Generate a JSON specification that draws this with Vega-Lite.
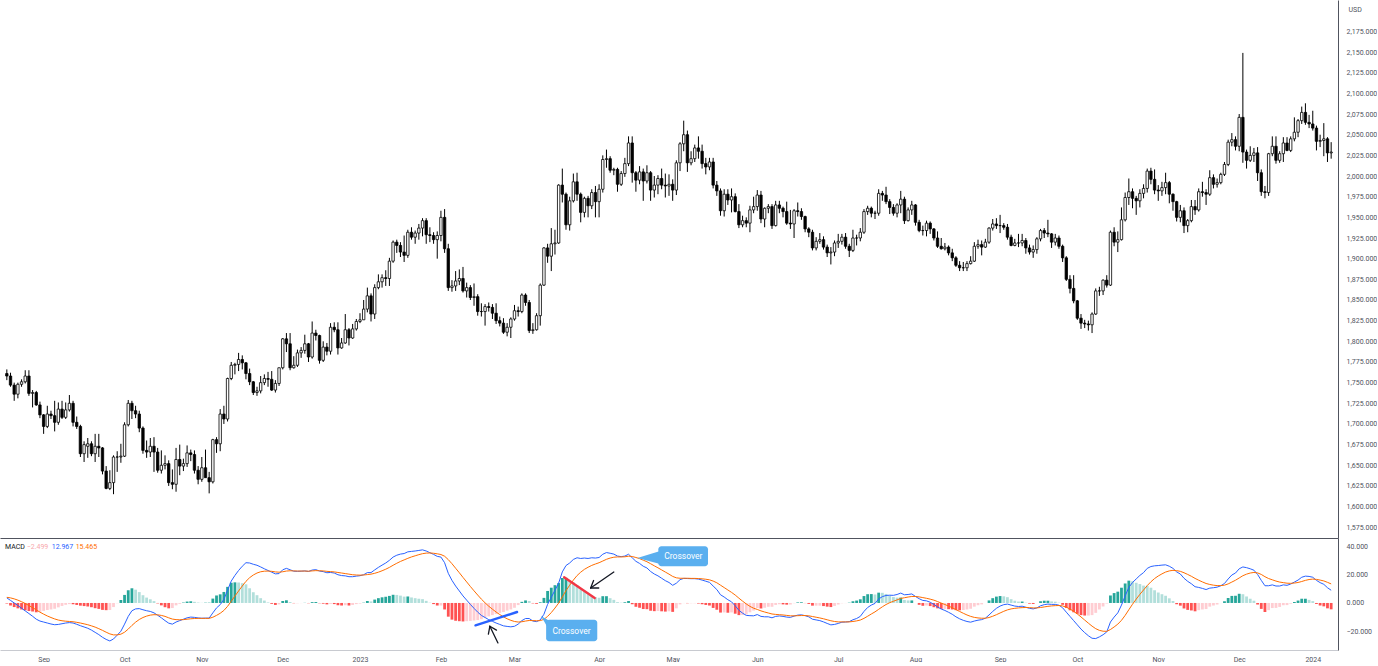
{
"$schema": "https://vega.github.io/schema/vega-lite/v6.json",
"padding": 0,
"background": "#ffffff",
"spacing": 0,
"config": {"view": {"stroke": null}, "font": "Roboto", "axis": {"grid": false, "ticks": false, "labelFont": "Roboto", "labelFontSize": 7, "labelColor": "#50535e", "domainColor": "#50535e", "titleFont": "Roboto"}},
"datasets": {
"bars": [
{"i":0,"d":"2022-08-18","o":1761,"h":1766,"l":1753,"c":1758,"m":3.6,"s":4.0,"g":-0.4},
{"i":1,"d":"2022-08-19","o":1758,"h":1762,"l":1745,"c":1747,"m":1.8,"s":3.6,"g":-1.8},
{"i":2,"d":"2022-08-22","o":1747,"h":1750,"l":1728,"c":1736,"m":0,"s":2.9,"g":-2.9},
{"i":3,"d":"2022-08-23","o":1736,"h":1750,"l":1731,"c":1748,"m":-1.8,"s":2.0,"g":-3.8},
{"i":4,"d":"2022-08-24","o":1748,"h":1754,"l":1745,"c":1751,"m":-3.7,"s":0.9,"g":-4.6},
{"i":5,"d":"2022-08-25","o":1751,"h":1765,"l":1749,"c":1758,"m":-5.6,"s":-0.4,"g":-5.2},
{"i":6,"d":"2022-08-26","o":1758,"h":1765,"l":1734,"c":1737,"m":-7.5,"s":-1.8,"g":-5.7},
{"i":7,"d":"2022-08-29","o":1737,"h":1741,"l":1720,"c":1738,"m":-9.4,"s":-3.3,"g":-6.1},
{"i":8,"d":"2022-08-30","o":1738,"h":1740,"l":1722,"c":1723,"m":-11.5,"s":-4.9,"g":-6.6},
{"i":9,"d":"2022-08-31","o":1723,"h":1727,"l":1707,"c":1711,"m":-12.8,"s":-6.5,"g":-6.3},
{"i":10,"d":"2022-09-01","o":1711,"h":1712,"l":1688,"c":1697,"m":-13.5,"s":-7.9,"g":-5.6},
{"i":11,"d":"2022-09-02","o":1697,"h":1722,"l":1695,"c":1712,"m":-14.2,"s":-9.2,"g":-5.0},
{"i":12,"d":"2022-09-05","o":1712,"h":1716,"l":1706,"c":1710,"m":-14.9,"s":-10.3,"g":-4.6},
{"i":13,"d":"2022-09-06","o":1710,"h":1728,"l":1691,"c":1702,"m":-15.4,"s":-11.3,"g":-4.1},
{"i":14,"d":"2022-09-07","o":1702,"h":1726,"l":1699,"c":1718,"m":-15.2,"s":-12.1,"g":-3.1},
{"i":15,"d":"2022-09-08","o":1718,"h":1728,"l":1706,"c":1708,"m":-14.7,"s":-12.6,"g":-2.1},
{"i":16,"d":"2022-09-09","o":1708,"h":1726,"l":1706,"c":1717,"m":-14.2,"s":-12.9,"g":-1.3},
{"i":17,"d":"2022-09-12","o":1717,"h":1735,"l":1715,"c":1725,"m":-13.9,"s":-13.1,"g":-0.8},
{"i":18,"d":"2022-09-13","o":1725,"h":1728,"l":1697,"c":1702,"m":-14.2,"s":-13.3,"g":-0.9},
{"i":19,"d":"2022-09-14","o":1702,"h":1709,"l":1694,"c":1697,"m":-15.1,"s":-13.7,"g":-1.4},
{"i":20,"d":"2022-09-15","o":1697,"h":1699,"l":1660,"c":1664,"m":-16.1,"s":-14.2,"g":-1.9},
{"i":21,"d":"2022-09-16","o":1664,"h":1679,"l":1654,"c":1675,"m":-17.0,"s":-14.8,"g":-2.2},
{"i":22,"d":"2022-09-19","o":1673,"h":1683,"l":1659,"c":1676,"m":-17.9,"s":-15.4,"g":-2.5},
{"i":23,"d":"2022-09-20","o":1676,"h":1679,"l":1661,"c":1664,"m":-19.2,"s":-16.2,"g":-3.0},
{"i":24,"d":"2022-09-21","o":1664,"h":1688,"l":1654,"c":1673,"m":-20.8,"s":-17.1,"g":-3.7},
{"i":25,"d":"2022-09-22","o":1673,"h":1688,"l":1660,"c":1671,"m":-22.4,"s":-18.2,"g":-4.2},
{"i":26,"d":"2022-09-23","o":1671,"h":1672,"l":1639,"c":1643,"m":-24.3,"s":-19.4,"g":-4.9},
{"i":27,"d":"2022-09-26","o":1643,"h":1649,"l":1621,"c":1622,"m":-25.8,"s":-20.7,"g":-5.1},
{"i":28,"d":"2022-09-27","o":1622,"h":1644,"l":1620,"c":1629,"m":-26.9,"s":-21.9,"g":-5.0},
{"i":29,"d":"2022-09-28","o":1629,"h":1662,"l":1615,"c":1660,"m":-25.5,"s":-22.6,"g":-2.9},
{"i":30,"d":"2022-09-29","o":1660,"h":1667,"l":1642,"c":1660,"m":-22.8,"s":-22.6,"g":-0.2},
{"i":31,"d":"2022-09-30","o":1660,"h":1676,"l":1653,"c":1661,"m":-20.0,"s":-22.1,"g":2.1},
{"i":32,"d":"2022-10-03","o":1661,"h":1702,"l":1660,"c":1699,"m":-15.0,"s":-20.7,"g":5.7},
{"i":33,"d":"2022-10-04","o":1699,"h":1729,"l":1697,"c":1725,"m":-9.5,"s":-18.5,"g":9.0},
{"i":34,"d":"2022-10-05","o":1725,"h":1728,"l":1706,"c":1716,"m":-5.5,"s":-15.9,"g":10.4},
{"i":35,"d":"2022-10-06","o":1716,"h":1722,"l":1707,"c":1712,"m":-4.2,"s":-13.6,"g":9.4},
{"i":36,"d":"2022-10-07","o":1712,"h":1716,"l":1690,"c":1695,"m":-4.0,"s":-11.7,"g":7.7},
{"i":37,"d":"2022-10-10","o":1695,"h":1697,"l":1664,"c":1668,"m":-4.8,"s":-10.3,"g":5.5},
{"i":38,"d":"2022-10-11","o":1668,"h":1680,"l":1659,"c":1666,"m":-5.5,"s":-9.3,"g":3.8},
{"i":39,"d":"2022-10-12","o":1666,"h":1683,"l":1660,"c":1673,"m":-6.0,"s":-8.6,"g":2.6},
{"i":40,"d":"2022-10-13","o":1673,"h":1684,"l":1642,"c":1666,"m":-7.0,"s":-8.3,"g":1.3},
{"i":41,"d":"2022-10-14","o":1666,"h":1671,"l":1641,"c":1644,"m":-8.7,"s":-8.4,"g":-0.3},
{"i":42,"d":"2022-10-17","o":1644,"h":1668,"l":1640,"c":1650,"m":-10.5,"s":-8.8,"g":-1.7},
{"i":43,"d":"2022-10-18","o":1650,"h":1662,"l":1645,"c":1652,"m":-12.5,"s":-9.5,"g":-3.0},
{"i":44,"d":"2022-10-19","o":1652,"h":1656,"l":1625,"c":1629,"m":-14.3,"s":-10.5,"g":-3.8},
{"i":45,"d":"2022-10-20","o":1629,"h":1645,"l":1621,"c":1627,"m":-15.0,"s":-11.4,"g":-3.6},
{"i":46,"d":"2022-10-21","o":1627,"h":1671,"l":1618,"c":1657,"m":-13.5,"s":-11.8,"g":-1.7},
{"i":47,"d":"2022-10-24","o":1657,"h":1675,"l":1638,"c":1649,"m":-12.5,"s":-11.9,"g":-0.6},
{"i":48,"d":"2022-10-25","o":1649,"h":1658,"l":1643,"c":1652,"m":-11.5,"s":-11.8,"g":0.3},
{"i":49,"d":"2022-10-26","o":1652,"h":1674,"l":1648,"c":1665,"m":-10.5,"s":-11.5,"g":1.0},
{"i":50,"d":"2022-10-27","o":1665,"h":1669,"l":1655,"c":1663,"m":-10.0,"s":-11.2,"g":1.2},
{"i":51,"d":"2022-10-28","o":1663,"h":1668,"l":1640,"c":1644,"m":-10.2,"s":-11.0,"g":0.8},
{"i":52,"d":"2022-10-31","o":1644,"h":1649,"l":1627,"c":1633,"m":-10.6,"s":-10.9,"g":0.3},
{"i":53,"d":"2022-11-01","o":1633,"h":1660,"l":1630,"c":1647,"m":-10.8,"s":-10.9,"g":0.1},
{"i":54,"d":"2022-11-02","o":1647,"h":1669,"l":1635,"c":1635,"m":-10.7,"s":-10.9,"g":0.2},
{"i":55,"d":"2022-11-03","o":1635,"h":1642,"l":1616,"c":1630,"m":-10.7,"s":-10.9,"g":0.2},
{"i":56,"d":"2022-11-04","o":1630,"h":1682,"l":1628,"c":1681,"m":-7.0,"s":-10.1,"g":3.1},
{"i":57,"d":"2022-11-07","o":1681,"h":1684,"l":1665,"c":1676,"m":-3.5,"s":-8.8,"g":5.3},
{"i":58,"d":"2022-11-08","o":1676,"h":1718,"l":1667,"c":1712,"m":-1.2,"s":-7.3,"g":6.1},
{"i":59,"d":"2022-11-09","o":1712,"h":1722,"l":1700,"c":1706,"m":2.5,"s":-5.3,"g":7.8},
{"i":60,"d":"2022-11-10","o":1706,"h":1756,"l":1703,"c":1755,"m":9.0,"s":-2.4,"g":11.4},
{"i":61,"d":"2022-11-11","o":1755,"h":1775,"l":1753,"c":1771,"m":15.5,"s":1.2,"g":14.3},
{"i":62,"d":"2022-11-14","o":1771,"h":1774,"l":1760,"c":1772,"m":19.5,"s":4.9,"g":14.6},
{"i":63,"d":"2022-11-15","o":1772,"h":1786,"l":1764,"c":1778,"m":23.0,"s":8.5,"g":14.5},
{"i":64,"d":"2022-11-16","o":1778,"h":1783,"l":1766,"c":1774,"m":26.0,"s":12.0,"g":14.0},
{"i":65,"d":"2022-11-17","o":1774,"h":1775,"l":1754,"c":1761,"m":28.5,"s":15.3,"g":13.2},
{"i":66,"d":"2022-11-18","o":1761,"h":1767,"l":1747,"c":1751,"m":28.3,"s":17.9,"g":10.4},
{"i":67,"d":"2022-11-21","o":1751,"h":1752,"l":1735,"c":1738,"m":27.4,"s":19.8,"g":7.6},
{"i":68,"d":"2022-11-22","o":1738,"h":1745,"l":1734,"c":1740,"m":26.7,"s":21.2,"g":5.5},
{"i":69,"d":"2022-11-23","o":1740,"h":1758,"l":1737,"c":1750,"m":25.5,"s":22.1,"g":3.4},
{"i":70,"d":"2022-11-24","o":1750,"h":1760,"l":1747,"c":1755,"m":24.2,"s":22.5,"g":1.7},
{"i":71,"d":"2022-11-25","o":1755,"h":1763,"l":1745,"c":1754,"m":23.0,"s":22.6,"g":0.4},
{"i":72,"d":"2022-11-28","o":1754,"h":1764,"l":1740,"c":1741,"m":21.8,"s":22.4,"g":-0.6},
{"i":73,"d":"2022-11-29","o":1741,"h":1753,"l":1738,"c":1749,"m":20.6,"s":22.0,"g":-1.4},
{"i":74,"d":"2022-11-30","o":1749,"h":1768,"l":1746,"c":1768,"m":20.8,"s":21.8,"g":-1.0},
{"i":75,"d":"2022-12-01","o":1768,"h":1804,"l":1766,"c":1803,"m":23.5,"s":22.1,"g":1.4},
{"i":76,"d":"2022-12-02","o":1803,"h":1810,"l":1787,"c":1797,"m":24.5,"s":22.6,"g":1.9},
{"i":77,"d":"2022-12-05","o":1797,"h":1810,"l":1765,"c":1768,"m":23.5,"s":22.8,"g":0.7},
{"i":78,"d":"2022-12-06","o":1768,"h":1782,"l":1767,"c":1771,"m":22.5,"s":22.7,"g":-0.2},
{"i":79,"d":"2022-12-07","o":1771,"h":1790,"l":1769,"c":1786,"m":22.4,"s":22.6,"g":-0.2},
{"i":80,"d":"2022-12-08","o":1786,"h":1793,"l":1780,"c":1789,"m":22.5,"s":22.6,"g":-0.1},
{"i":81,"d":"2022-12-09","o":1789,"h":1808,"l":1785,"c":1797,"m":22.7,"s":22.6,"g":0.1},
{"i":82,"d":"2022-12-12","o":1797,"h":1798,"l":1775,"c":1781,"m":22.3,"s":22.5,"g":-0.2},
{"i":83,"d":"2022-12-13","o":1781,"h":1824,"l":1779,"c":1810,"m":23.3,"s":22.7,"g":0.6},
{"i":84,"d":"2022-12-14","o":1810,"h":1814,"l":1801,"c":1807,"m":23.6,"s":22.9,"g":0.7},
{"i":85,"d":"2022-12-15","o":1807,"h":1808,"l":1773,"c":1777,"m":22.6,"s":22.8,"g":-0.2},
{"i":86,"d":"2022-12-16","o":1777,"h":1800,"l":1775,"c":1793,"m":22.2,"s":22.7,"g":-0.5},
{"i":87,"d":"2022-12-19","o":1793,"h":1798,"l":1783,"c":1788,"m":21.4,"s":22.4,"g":-1.0},
{"i":88,"d":"2022-12-20","o":1788,"h":1822,"l":1784,"c":1817,"m":21.6,"s":22.2,"g":-0.6},
{"i":89,"d":"2022-12-21","o":1817,"h":1823,"l":1811,"c":1814,"m":21.2,"s":22.0,"g":-0.8},
{"i":90,"d":"2022-12-22","o":1814,"h":1823,"l":1784,"c":1792,"m":20.0,"s":21.6,"g":-1.6},
{"i":91,"d":"2022-12-23","o":1792,"h":1804,"l":1791,"c":1798,"m":19.4,"s":21.2,"g":-1.8},
{"i":92,"d":"2022-12-27","o":1798,"h":1833,"l":1797,"c":1814,"m":19.2,"s":20.8,"g":-1.6},
{"i":93,"d":"2022-12-28","o":1814,"h":1816,"l":1795,"c":1804,"m":18.6,"s":20.4,"g":-1.8},
{"i":94,"d":"2022-12-29","o":1804,"h":1821,"l":1803,"c":1815,"m":18.6,"s":20.0,"g":-1.4},
{"i":95,"d":"2022-12-30","o":1815,"h":1827,"l":1813,"c":1824,"m":19.0,"s":19.8,"g":-0.8},
{"i":96,"d":"2023-01-02","o":1824,"h":1834,"l":1822,"c":1826,"m":19.3,"s":19.7,"g":-0.4},
{"i":97,"d":"2023-01-03","o":1826,"h":1850,"l":1826,"c":1839,"m":20.0,"s":19.8,"g":0.2},
{"i":98,"d":"2023-01-04","o":1839,"h":1865,"l":1835,"c":1855,"m":21.5,"s":20.1,"g":1.4},
{"i":99,"d":"2023-01-05","o":1855,"h":1858,"l":1824,"c":1833,"m":21.5,"s":20.4,"g":1.1},
{"i":100,"d":"2023-01-06","o":1833,"h":1869,"l":1827,"c":1865,"m":23.4,"s":21.0,"g":2.4},
{"i":101,"d":"2023-01-09","o":1865,"h":1881,"l":1863,"c":1872,"m":25.2,"s":21.8,"g":3.4},
{"i":102,"d":"2023-01-10","o":1872,"h":1881,"l":1865,"c":1877,"m":26.8,"s":22.8,"g":4.0},
{"i":103,"d":"2023-01-11","o":1877,"h":1886,"l":1867,"c":1876,"m":28.3,"s":23.9,"g":4.4},
{"i":104,"d":"2023-01-12","o":1876,"h":1901,"l":1867,"c":1897,"m":30.2,"s":25.2,"g":5.0},
{"i":105,"d":"2023-01-13","o":1897,"h":1922,"l":1895,"c":1920,"m":32.5,"s":26.7,"g":5.8},
{"i":106,"d":"2023-01-16","o":1920,"h":1923,"l":1907,"c":1916,"m":33.8,"s":28.1,"g":5.7},
{"i":107,"d":"2023-01-17","o":1916,"h":1920,"l":1902,"c":1908,"m":34.6,"s":29.4,"g":5.2},
{"i":108,"d":"2023-01-18","o":1908,"h":1928,"l":1896,"c":1904,"m":35.0,"s":30.5,"g":4.5},
{"i":109,"d":"2023-01-19","o":1904,"h":1935,"l":1901,"c":1932,"m":36.2,"s":31.6,"g":4.6},
{"i":110,"d":"2023-01-20","o":1932,"h":1938,"l":1923,"c":1926,"m":36.5,"s":32.6,"g":3.9},
{"i":111,"d":"2023-01-23","o":1926,"h":1934,"l":1918,"c":1931,"m":36.8,"s":33.4,"g":3.4},
{"i":112,"d":"2023-01-24","o":1931,"h":1942,"l":1923,"c":1937,"m":37.2,"s":34.2,"g":3.0},
{"i":113,"d":"2023-01-25","o":1937,"h":1949,"l":1927,"c":1946,"m":37.6,"s":34.9,"g":2.7},
{"i":114,"d":"2023-01-26","o":1946,"h":1949,"l":1918,"c":1929,"m":36.8,"s":35.3,"g":1.5},
{"i":115,"d":"2023-01-27","o":1929,"h":1938,"l":1920,"c":1928,"m":35.6,"s":35.4,"g":0.2},
{"i":116,"d":"2023-01-30","o":1928,"h":1932,"l":1918,"c":1923,"m":34.4,"s":35.2,"g":-0.8},
{"i":117,"d":"2023-01-31","o":1923,"h":1933,"l":1900,"c":1928,"m":33.0,"s":34.8,"g":-1.8},
{"i":118,"d":"2023-02-01","o":1928,"h":1958,"l":1921,"c":1950,"m":32.5,"s":34.3,"g":-1.8},
{"i":119,"d":"2023-02-02","o":1950,"h":1960,"l":1907,"c":1912,"m":28.5,"s":33.1,"g":-4.6},
{"i":120,"d":"2023-02-03","o":1912,"h":1918,"l":1861,"c":1865,"m":21.0,"s":30.7,"g":-9.7},
{"i":121,"d":"2023-02-06","o":1865,"h":1874,"l":1860,"c":1867,"m":16.0,"s":27.8,"g":-11.8},
{"i":122,"d":"2023-02-07","o":1867,"h":1885,"l":1861,"c":1873,"m":12.0,"s":24.6,"g":-12.6},
{"i":123,"d":"2023-02-08","o":1873,"h":1887,"l":1868,"c":1876,"m":8.5,"s":21.4,"g":-12.9},
{"i":124,"d":"2023-02-09","o":1876,"h":1890,"l":1859,"c":1861,"m":5.0,"s":18.1,"g":-13.1},
{"i":125,"d":"2023-02-10","o":1861,"h":1871,"l":1853,"c":1865,"m":2.0,"s":14.9,"g":-12.9},
{"i":126,"d":"2023-02-13","o":1865,"h":1868,"l":1850,"c":1853,"m":-1.0,"s":11.7,"g":-12.7},
{"i":127,"d":"2023-02-14","o":1853,"h":1870,"l":1843,"c":1854,"m":-3.8,"s":8.6,"g":-12.4},
{"i":128,"d":"2023-02-15","o":1854,"h":1857,"l":1831,"c":1836,"m":-6.5,"s":5.6,"g":-12.1},
{"i":129,"d":"2023-02-16","o":1836,"h":1846,"l":1830,"c":1836,"m":-8.8,"s":2.7,"g":-11.5},
{"i":130,"d":"2023-02-17","o":1836,"h":1845,"l":1819,"c":1842,"m":-10.3,"s":0.1,"g":-10.4},
{"i":131,"d":"2023-02-20","o":1842,"h":1847,"l":1836,"c":1841,"m":-11.8,"s":-2.3,"g":-9.5},
{"i":132,"d":"2023-02-21","o":1841,"h":1845,"l":1827,"c":1834,"m":-13.0,"s":-4.4,"g":-8.6},
{"i":133,"d":"2023-02-22","o":1834,"h":1846,"l":1821,"c":1825,"m":-14.2,"s":-6.4,"g":-7.8},
{"i":134,"d":"2023-02-23","o":1825,"h":1830,"l":1818,"c":1822,"m":-15.2,"s":-8.2,"g":-7.0},
{"i":135,"d":"2023-02-24","o":1822,"h":1828,"l":1809,"c":1811,"m":-16.2,"s":-9.8,"g":-6.4},
{"i":136,"d":"2023-02-27","o":1811,"h":1822,"l":1806,"c":1817,"m":-16.6,"s":-11.2,"g":-5.4},
{"i":137,"d":"2023-02-28","o":1817,"h":1829,"l":1804,"c":1827,"m":-16.9,"s":-12.3,"g":-4.6},
{"i":138,"d":"2023-03-01","o":1827,"h":1844,"l":1825,"c":1837,"m":-16.5,"s":-13.1,"g":-3.4},
{"i":139,"d":"2023-03-02","o":1837,"h":1842,"l":1830,"c":1836,"m":-15.0,"s":-13.5,"g":-1.5},
{"i":140,"d":"2023-03-03","o":1836,"h":1858,"l":1834,"c":1856,"m":-12.5,"s":-13.3,"g":0.8},
{"i":141,"d":"2023-03-06","o":1856,"h":1858,"l":1843,"c":1847,"m":-11.0,"s":-12.8,"g":1.8},
{"i":142,"d":"2023-03-07","o":1847,"h":1850,"l":1810,"c":1813,"m":-11.0,"s":-12.4,"g":1.4},
{"i":143,"d":"2023-03-08","o":1813,"h":1822,"l":1809,"c":1814,"m":-12.8,"s":-12.5,"g":-0.3},
{"i":144,"d":"2023-03-09","o":1814,"h":1834,"l":1813,"c":1831,"m":-13.2,"s":-12.6,"g":-0.6},
{"i":145,"d":"2023-03-10","o":1831,"h":1870,"l":1819,"c":1868,"m":-12.0,"s":-12.5,"g":0.5},
{"i":146,"d":"2023-03-13","o":1868,"h":1914,"l":1867,"c":1913,"m":-8.0,"s":-11.6,"g":3.6},
{"i":147,"d":"2023-03-14","o":1913,"h":1918,"l":1895,"c":1903,"m":-1.0,"s":-9.5,"g":8.5},
{"i":148,"d":"2023-03-15","o":1903,"h":1937,"l":1885,"c":1918,"m":4.0,"s":-6.8,"g":10.8},
{"i":149,"d":"2023-03-16","o":1918,"h":1935,"l":1905,"c":1919,"m":9.0,"s":-3.6,"g":12.6},
{"i":150,"d":"2023-03-17","o":1919,"h":1990,"l":1918,"c":1989,"m":14.0,"s":-0.1,"g":14.1},
{"i":151,"d":"2023-03-20","o":1989,"h":2009,"l":1968,"c":1978,"m":22.0,"s":4.3,"g":17.7},
{"i":152,"d":"2023-03-21","o":1978,"h":1980,"l":1935,"c":1941,"m":26.5,"s":8.7,"g":17.8},
{"i":153,"d":"2023-03-22","o":1941,"h":1975,"l":1934,"c":1970,"m":28.3,"s":12.6,"g":15.7},
{"i":154,"d":"2023-03-23","o":1970,"h":2003,"l":1968,"c":1993,"m":30.8,"s":16.2,"g":14.6},
{"i":155,"d":"2023-03-24","o":1993,"h":2004,"l":1970,"c":1978,"m":32.0,"s":19.4,"g":12.6},
{"i":156,"d":"2023-03-27","o":1978,"h":1980,"l":1944,"c":1956,"m":31.5,"s":21.8,"g":9.7},
{"i":157,"d":"2023-03-28","o":1956,"h":1975,"l":1950,"c":1973,"m":31.8,"s":23.8,"g":8.0},
{"i":158,"d":"2023-03-29","o":1973,"h":1976,"l":1950,"c":1964,"m":31.5,"s":25.3,"g":6.2},
{"i":159,"d":"2023-03-30","o":1964,"h":1984,"l":1960,"c":1980,"m":32.0,"s":26.6,"g":5.4},
{"i":160,"d":"2023-03-31","o":1980,"h":1988,"l":1950,"c":1969,"m":31.8,"s":27.6,"g":4.2},
{"i":161,"d":"2023-04-03","o":1969,"h":1990,"l":1950,"c":1984,"m":32.2,"s":28.5,"g":3.7},
{"i":162,"d":"2023-04-04","o":1984,"h":2025,"l":1980,"c":2020,"m":34.5,"s":29.7,"g":4.8},
{"i":163,"d":"2023-04-05","o":2020,"h":2032,"l":2010,"c":2021,"m":35.7,"s":30.9,"g":4.8},
{"i":164,"d":"2023-04-06","o":2021,"h":2024,"l":2004,"c":2007,"m":35.2,"s":31.8,"g":3.4},
{"i":165,"d":"2023-04-07","o":2007,"h":2010,"l":2001,"c":2008,"m":34.6,"s":32.4,"g":2.2},
{"i":166,"d":"2023-04-10","o":2008,"h":2010,"l":1981,"c":1990,"m":33.2,"s":32.6,"g":0.6},
{"i":167,"d":"2023-04-11","o":1990,"h":2006,"l":1988,"c":2003,"m":32.8,"s":32.6,"g":0.2},
{"i":168,"d":"2023-04-12","o":2003,"h":2022,"l":1999,"c":2015,"m":33.2,"s":32.7,"g":0.5},
{"i":169,"d":"2023-04-13","o":2015,"h":2048,"l":2012,"c":2040,"m":34.5,"s":33.1,"g":1.4},
{"i":170,"d":"2023-04-14","o":2040,"h":2048,"l":1992,"c":2004,"m":32.0,"s":32.9,"g":-0.9},
{"i":171,"d":"2023-04-17","o":2004,"h":2006,"l":1981,"c":1995,"m":29.5,"s":32.2,"g":-2.7},
{"i":172,"d":"2023-04-18","o":1995,"h":2012,"l":1990,"c":2005,"m":28.0,"s":31.4,"g":-3.4},
{"i":173,"d":"2023-04-19","o":2005,"h":2009,"l":1970,"c":1994,"m":26.0,"s":30.3,"g":-4.3},
{"i":174,"d":"2023-04-20","o":1994,"h":2013,"l":1991,"c":2004,"m":24.8,"s":29.2,"g":-4.4},
{"i":175,"d":"2023-04-21","o":2004,"h":2006,"l":1970,"c":1983,"m":22.3,"s":27.8,"g":-5.5},
{"i":176,"d":"2023-04-24","o":1983,"h":2000,"l":1974,"c":1989,"m":20.5,"s":26.3,"g":-5.8},
{"i":177,"d":"2023-04-25","o":1989,"h":2001,"l":1978,"c":1997,"m":19.2,"s":24.9,"g":-5.7},
{"i":178,"d":"2023-04-26","o":1997,"h":2009,"l":1984,"c":1989,"m":17.5,"s":23.4,"g":-5.9},
{"i":179,"d":"2023-04-27","o":1989,"h":2003,"l":1974,"c":1988,"m":15.8,"s":21.9,"g":-6.1},
{"i":180,"d":"2023-04-28","o":1988,"h":2002,"l":1976,"c":1990,"m":14.5,"s":20.4,"g":-5.9},
{"i":181,"d":"2023-05-01","o":1990,"h":1996,"l":1970,"c":1983,"m":12.5,"s":18.8,"g":-6.3},
{"i":182,"d":"2023-05-02","o":1983,"h":2019,"l":1977,"c":2016,"m":14.0,"s":17.8,"g":-3.8},
{"i":183,"d":"2023-05-03","o":2016,"h":2041,"l":2006,"c":2039,"m":16.5,"s":17.5,"g":-1.0},
{"i":184,"d":"2023-05-04","o":2039,"h":2067,"l":2030,"c":2050,"m":17.4,"s":17.5,"g":-0.1},
{"i":185,"d":"2023-05-05","o":2050,"h":2055,"l":2005,"c":2016,"m":17.3,"s":17.5,"g":-0.2},
{"i":186,"d":"2023-05-08","o":2016,"h":2030,"l":2013,"c":2021,"m":17.2,"s":17.4,"g":-0.2},
{"i":187,"d":"2023-05-09","o":2021,"h":2038,"l":2017,"c":2034,"m":17.2,"s":17.4,"g":-0.2},
{"i":188,"d":"2023-05-10","o":2034,"h":2048,"l":2021,"c":2030,"m":16.9,"s":17.3,"g":-0.4},
{"i":189,"d":"2023-05-11","o":2030,"h":2038,"l":2009,"c":2015,"m":16.2,"s":17.1,"g":-0.9},
{"i":190,"d":"2023-05-12","o":2015,"h":2022,"l":2002,"c":2011,"m":15.4,"s":16.8,"g":-1.4},
{"i":191,"d":"2023-05-15","o":2011,"h":2022,"l":2007,"c":2017,"m":14.6,"s":16.4,"g":-1.8},
{"i":192,"d":"2023-05-16","o":2017,"h":2022,"l":1985,"c":1989,"m":12.0,"s":15.5,"g":-3.5},
{"i":193,"d":"2023-05-17","o":1989,"h":1994,"l":1976,"c":1982,"m":9.5,"s":14.3,"g":-4.8},
{"i":194,"d":"2023-05-18","o":1982,"h":1985,"l":1952,"c":1958,"m":5.8,"s":12.6,"g":-6.8},
{"i":195,"d":"2023-05-19","o":1958,"h":1984,"l":1951,"c":1978,"m":4.2,"s":10.9,"g":-6.7},
{"i":196,"d":"2023-05-22","o":1978,"h":1984,"l":1965,"c":1971,"m":2.3,"s":9.2,"g":-6.9},
{"i":197,"d":"2023-05-23","o":1971,"h":1985,"l":1956,"c":1975,"m":0.8,"s":7.5,"g":-6.7},
{"i":198,"d":"2023-05-24","o":1975,"h":1979,"l":1956,"c":1957,"m":-2.0,"s":5.6,"g":-7.6},
{"i":199,"d":"2023-05-25","o":1957,"h":1966,"l":1937,"c":1941,"m":-5.2,"s":3.4,"g":-8.6},
{"i":200,"d":"2023-05-26","o":1941,"h":1952,"l":1938,"c":1946,"m":-7.2,"s":1.3,"g":-8.5},
{"i":201,"d":"2023-05-29","o":1946,"h":1950,"l":1938,"c":1943,"m":-8.8,"s":-0.7,"g":-8.1},
{"i":202,"d":"2023-05-30","o":1943,"h":1964,"l":1932,"c":1959,"m":-9.0,"s":-2.4,"g":-6.6},
{"i":203,"d":"2023-05-31","o":1959,"h":1975,"l":1955,"c":1963,"m":-9.1,"s":-3.7,"g":-5.4},
{"i":204,"d":"2023-06-01","o":1963,"h":1983,"l":1958,"c":1977,"m":-8.2,"s":-4.6,"g":-3.6},
{"i":205,"d":"2023-06-02","o":1977,"h":1982,"l":1943,"c":1948,"m":-9.5,"s":-5.6,"g":-3.9},
{"i":206,"d":"2023-06-05","o":1948,"h":1962,"l":1938,"c":1961,"m":-9.8,"s":-6.4,"g":-3.4},
{"i":207,"d":"2023-06-06","o":1961,"h":1966,"l":1955,"c":1963,"m":-9.8,"s":-7.1,"g":-2.7},
{"i":208,"d":"2023-06-07","o":1963,"h":1966,"l":1936,"c":1940,"m":-10.5,"s":-7.8,"g":-2.7},
{"i":209,"d":"2023-06-08","o":1940,"h":1970,"l":1939,"c":1965,"m":-9.5,"s":-8.1,"g":-1.4},
{"i":210,"d":"2023-06-09","o":1965,"h":1970,"l":1955,"c":1961,"m":-9.2,"s":-8.3,"g":-0.9},
{"i":211,"d":"2023-06-12","o":1961,"h":1963,"l":1950,"c":1957,"m":-9.5,"s":-8.5,"g":-1.0},
{"i":212,"d":"2023-06-13","o":1957,"h":1969,"l":1941,"c":1943,"m":-10.0,"s":-8.8,"g":-1.2},
{"i":213,"d":"2023-06-14","o":1943,"h":1959,"l":1936,"c":1942,"m":-10.2,"s":-9.1,"g":-1.1},
{"i":214,"d":"2023-06-15","o":1942,"h":1960,"l":1925,"c":1958,"m":-9.3,"s":-9.1,"g":-0.2},
{"i":215,"d":"2023-06-16","o":1958,"h":1968,"l":1951,"c":1957,"m":-8.6,"s":-9.0,"g":0.4},
{"i":216,"d":"2023-06-19","o":1957,"h":1961,"l":1947,"c":1951,"m":-8.4,"s":-8.9,"g":0.5},
{"i":217,"d":"2023-06-20","o":1951,"h":1952,"l":1932,"c":1936,"m":-9.0,"s":-8.9,"g":-0.1},
{"i":218,"d":"2023-06-21","o":1936,"h":1938,"l":1926,"c":1932,"m":-9.8,"s":-9.1,"g":-0.7},
{"i":219,"d":"2023-06-22","o":1932,"h":1935,"l":1910,"c":1913,"m":-11.5,"s":-9.6,"g":-1.9},
{"i":220,"d":"2023-06-23","o":1913,"h":1926,"l":1910,"c":1921,"m":-12.0,"s":-10.1,"g":-1.9},
{"i":221,"d":"2023-06-26","o":1921,"h":1931,"l":1918,"c":1923,"m":-12.5,"s":-10.6,"g":-1.9},
{"i":222,"d":"2023-06-27","o":1923,"h":1927,"l":1911,"c":1914,"m":-13.4,"s":-11.2,"g":-2.2},
{"i":223,"d":"2023-06-28","o":1914,"h":1917,"l":1902,"c":1907,"m":-14.5,"s":-11.9,"g":-2.6},
{"i":224,"d":"2023-06-29","o":1907,"h":1914,"l":1893,"c":1908,"m":-15.5,"s":-12.6,"g":-2.9},
{"i":225,"d":"2023-06-30","o":1908,"h":1922,"l":1903,"c":1919,"m":-15.2,"s":-13.1,"g":-2.1},
{"i":226,"d":"2023-07-03","o":1919,"h":1930,"l":1913,"c":1921,"m":-14.5,"s":-13.4,"g":-1.1},
{"i":227,"d":"2023-07-04","o":1921,"h":1930,"l":1917,"c":1926,"m":-13.6,"s":-13.4,"g":-0.2},
{"i":228,"d":"2023-07-05","o":1926,"h":1931,"l":1912,"c":1915,"m":-13.5,"s":-13.4,"g":-0.1},
{"i":229,"d":"2023-07-06","o":1915,"h":1918,"l":1902,"c":1910,"m":-13.2,"s":-13.4,"g":0.2},
{"i":230,"d":"2023-07-07","o":1910,"h":1935,"l":1908,"c":1925,"m":-11.9,"s":-13.1,"g":1.2},
{"i":231,"d":"2023-07-10","o":1925,"h":1929,"l":1916,"c":1925,"m":-11.0,"s":-12.7,"g":1.7},
{"i":232,"d":"2023-07-11","o":1925,"h":1937,"l":1921,"c":1932,"m":-9.5,"s":-12.1,"g":2.6},
{"i":233,"d":"2023-07-12","o":1932,"h":1960,"l":1930,"c":1957,"m":-6.0,"s":-10.9,"g":4.9},
{"i":234,"d":"2023-07-13","o":1957,"h":1964,"l":1953,"c":1961,"m":-3.2,"s":-9.4,"g":6.2},
{"i":235,"d":"2023-07-14","o":1961,"h":1963,"l":1950,"c":1955,"m":-1.5,"s":-7.8,"g":6.3},
{"i":236,"d":"2023-07-17","o":1955,"h":1958,"l":1948,"c":1955,"m":-0.3,"s":-6.3,"g":6.0},
{"i":237,"d":"2023-07-18","o":1955,"h":1984,"l":1952,"c":1979,"m":2.8,"s":-4.5,"g":7.3},
{"i":238,"d":"2023-07-19","o":1979,"h":1982,"l":1970,"c":1977,"m":4.5,"s":-2.7,"g":7.2},
{"i":239,"d":"2023-07-20","o":1977,"h":1987,"l":1966,"c":1969,"m":5.3,"s":-1.1,"g":6.4},
{"i":240,"d":"2023-07-21","o":1969,"h":1972,"l":1954,"c":1962,"m":5.5,"s":0.2,"g":5.3},
{"i":241,"d":"2023-07-24","o":1962,"h":1966,"l":1952,"c":1955,"m":5.4,"s":1.2,"g":4.2},
{"i":242,"d":"2023-07-25","o":1955,"h":1967,"l":1950,"c":1965,"m":6.0,"s":2.2,"g":3.8},
{"i":243,"d":"2023-07-26","o":1965,"h":1982,"l":1955,"c":1972,"m":7.0,"s":3.2,"g":3.8},
{"i":244,"d":"2023-07-27","o":1972,"h":1975,"l":1942,"c":1946,"m":5.8,"s":3.7,"g":2.1},
{"i":245,"d":"2023-07-28","o":1946,"h":1962,"l":1945,"c":1959,"m":6.0,"s":4.2,"g":1.8},
{"i":246,"d":"2023-07-31","o":1959,"h":1970,"l":1953,"c":1965,"m":6.4,"s":4.6,"g":1.8},
{"i":247,"d":"2023-08-01","o":1965,"h":1966,"l":1940,"c":1944,"m":4.6,"s":4.6,"g":0.0},
{"i":248,"d":"2023-08-02","o":1944,"h":1947,"l":1932,"c":1934,"m":3.0,"s":4.3,"g":-1.3},
{"i":249,"d":"2023-08-03","o":1934,"h":1940,"l":1928,"c":1934,"m":1.8,"s":3.8,"g":-2.0},
{"i":250,"d":"2023-08-04","o":1934,"h":1946,"l":1927,"c":1943,"m":1.5,"s":3.3,"g":-1.8},
{"i":251,"d":"2023-08-07","o":1943,"h":1945,"l":1930,"c":1936,"m":0.5,"s":2.7,"g":-2.2},
{"i":252,"d":"2023-08-08","o":1936,"h":1937,"l":1922,"c":1925,"m":-1.0,"s":2.0,"g":-3.0},
{"i":253,"d":"2023-08-09","o":1925,"h":1933,"l":1913,"c":1915,"m":-2.8,"s":1.0,"g":-3.8},
{"i":254,"d":"2023-08-10","o":1915,"h":1925,"l":1911,"c":1912,"m":-4.3,"s":-0.1,"g":-4.2},
{"i":255,"d":"2023-08-11","o":1912,"h":1919,"l":1910,"c":1914,"m":-5.3,"s":-1.1,"g":-4.2},
{"i":256,"d":"2023-08-14","o":1914,"h":1916,"l":1904,"c":1907,"m":-6.6,"s":-2.2,"g":-4.4},
{"i":257,"d":"2023-08-15","o":1907,"h":1912,"l":1897,"c":1901,"m":-8.0,"s":-3.4,"g":-4.6},
{"i":258,"d":"2023-08-16","o":1901,"h":1903,"l":1890,"c":1892,"m":-9.8,"s":-4.7,"g":-5.1},
{"i":259,"d":"2023-08-17","o":1892,"h":1897,"l":1885,"c":1889,"m":-11.2,"s":-6.0,"g":-5.2},
{"i":260,"d":"2023-08-18","o":1889,"h":1896,"l":1885,"c":1889,"m":-12.3,"s":-7.3,"g":-5.0},
{"i":261,"d":"2023-08-21","o":1889,"h":1897,"l":1885,"c":1894,"m":-13.1,"s":-8.5,"g":-4.6},
{"i":262,"d":"2023-08-22","o":1894,"h":1903,"l":1893,"c":1897,"m":-13.6,"s":-9.5,"g":-4.1},
{"i":263,"d":"2023-08-23","o":1897,"h":1920,"l":1896,"c":1915,"m":-12.8,"s":-10.2,"g":-2.6},
{"i":264,"d":"2023-08-24","o":1915,"h":1923,"l":1912,"c":1917,"m":-12.2,"s":-10.6,"g":-1.6},
{"i":265,"d":"2023-08-25","o":1917,"h":1922,"l":1904,"c":1914,"m":-11.8,"s":-10.8,"g":-1.0},
{"i":266,"d":"2023-08-28","o":1914,"h":1924,"l":1913,"c":1920,"m":-10.8,"s":-10.8,"g":0.0},
{"i":267,"d":"2023-08-29","o":1920,"h":1938,"l":1918,"c":1937,"m":-8.5,"s":-10.3,"g":1.8},
{"i":268,"d":"2023-08-30","o":1937,"h":1948,"l":1934,"c":1942,"m":-6.0,"s":-9.4,"g":3.4},
{"i":269,"d":"2023-08-31","o":1942,"h":1949,"l":1936,"c":1940,"m":-3.8,"s":-8.3,"g":4.5},
{"i":270,"d":"2023-09-01","o":1940,"h":1953,"l":1931,"c":1940,"m":-2.2,"s":-7.1,"g":4.9},
{"i":271,"d":"2023-09-04","o":1940,"h":1943,"l":1935,"c":1938,"m":-1.2,"s":-5.9,"g":4.7},
{"i":272,"d":"2023-09-05","o":1938,"h":1942,"l":1923,"c":1926,"m":-0.8,"s":-4.9,"g":4.1},
{"i":273,"d":"2023-09-06","o":1926,"h":1929,"l":1915,"c":1916,"m":-1.5,"s":-4.2,"g":2.7},
{"i":274,"d":"2023-09-07","o":1916,"h":1924,"l":1915,"c":1919,"m":-2.2,"s":-3.8,"g":1.6},
{"i":275,"d":"2023-09-08","o":1919,"h":1930,"l":1914,"c":1919,"m":-2.5,"s":-3.5,"g":1.0},
{"i":276,"d":"2023-09-11","o":1919,"h":1930,"l":1915,"c":1922,"m":-2.3,"s":-3.3,"g":1.0},
{"i":277,"d":"2023-09-12","o":1922,"h":1925,"l":1906,"c":1913,"m":-3.0,"s":-3.2,"g":0.2},
{"i":278,"d":"2023-09-13","o":1913,"h":1917,"l":1905,"c":1908,"m":-3.8,"s":-3.3,"g":-0.5},
{"i":279,"d":"2023-09-14","o":1908,"h":1916,"l":1901,"c":1911,"m":-4.2,"s":-3.5,"g":-0.7},
{"i":280,"d":"2023-09-15","o":1911,"h":1926,"l":1906,"c":1924,"m":-3.5,"s":-3.5,"g":0.0},
{"i":281,"d":"2023-09-18","o":1924,"h":1936,"l":1921,"c":1934,"m":-2.0,"s":-3.2,"g":1.2},
{"i":282,"d":"2023-09-19","o":1934,"h":1937,"l":1925,"c":1931,"m":-1.2,"s":-2.8,"g":1.6},
{"i":283,"d":"2023-09-20","o":1931,"h":1947,"l":1926,"c":1930,"m":-0.8,"s":-2.4,"g":1.6},
{"i":284,"d":"2023-09-21","o":1930,"h":1931,"l":1913,"c":1920,"m":-1.0,"s":-2.1,"g":1.1},
{"i":285,"d":"2023-09-22","o":1920,"h":1930,"l":1916,"c":1925,"m":-1.0,"s":-1.9,"g":0.9},
{"i":286,"d":"2023-09-25","o":1925,"h":1928,"l":1912,"c":1915,"m":-1.6,"s":-1.8,"g":0.2},
{"i":287,"d":"2023-09-26","o":1915,"h":1917,"l":1896,"c":1901,"m":-3.4,"s":-2.1,"g":-1.3},
{"i":288,"d":"2023-09-27","o":1901,"h":1903,"l":1873,"c":1875,"m":-6.5,"s":-3.0,"g":-3.5},
{"i":289,"d":"2023-09-28","o":1875,"h":1880,"l":1858,"c":1864,"m":-9.5,"s":-4.3,"g":-5.2},
{"i":290,"d":"2023-09-29","o":1864,"h":1880,"l":1846,"c":1849,"m":-12.5,"s":-5.9,"g":-6.6},
{"i":291,"d":"2023-10-02","o":1849,"h":1850,"l":1826,"c":1828,"m":-15.5,"s":-7.8,"g":-7.7},
{"i":292,"d":"2023-10-03","o":1828,"h":1833,"l":1815,"c":1822,"m":-18.5,"s":-9.9,"g":-8.6},
{"i":293,"d":"2023-10-04","o":1822,"h":1826,"l":1816,"c":1821,"m":-21.0,"s":-12.1,"g":-8.9},
{"i":294,"d":"2023-10-05","o":1821,"h":1825,"l":1813,"c":1820,"m":-23.2,"s":-14.3,"g":-8.9},
{"i":295,"d":"2023-10-06","o":1820,"h":1835,"l":1810,"c":1833,"m":-25.0,"s":-16.4,"g":-8.6},
{"i":296,"d":"2023-10-09","o":1833,"h":1864,"l":1832,"c":1861,"m":-25.2,"s":-18.2,"g":-7.0},
{"i":297,"d":"2023-10-10","o":1861,"h":1866,"l":1855,"c":1861,"m":-24.0,"s":-19.4,"g":-4.6},
{"i":298,"d":"2023-10-11","o":1861,"h":1875,"l":1856,"c":1874,"m":-22.5,"s":-20.0,"g":-2.5},
{"i":299,"d":"2023-10-12","o":1874,"h":1880,"l":1865,"c":1868,"m":-20.5,"s":-20.1,"g":-0.4},
{"i":300,"d":"2023-10-13","o":1868,"h":1934,"l":1867,"c":1932,"m":-13.5,"s":-18.8,"g":5.3},
{"i":301,"d":"2023-10-16","o":1932,"h":1938,"l":1915,"c":1920,"m":-10.0,"s":-17.0,"g":7.0},
{"i":302,"d":"2023-10-17","o":1920,"h":1933,"l":1908,"c":1923,"m":-7.0,"s":-15.0,"g":8.0},
{"i":303,"d":"2023-10-18","o":1923,"h":1962,"l":1922,"c":1947,"m":-1.5,"s":-12.3,"g":10.8},
{"i":304,"d":"2023-10-19","o":1947,"h":1980,"l":1945,"c":1974,"m":5.0,"s":-8.8,"g":13.8},
{"i":305,"d":"2023-10-20","o":1974,"h":1997,"l":1965,"c":1981,"m":11.0,"s":-4.8,"g":15.8},
{"i":306,"d":"2023-10-23","o":1981,"h":1985,"l":1961,"c":1973,"m":14.5,"s":-0.9,"g":15.4},
{"i":307,"d":"2023-10-24","o":1973,"h":1976,"l":1953,"c":1970,"m":17.0,"s":2.7,"g":14.3},
{"i":308,"d":"2023-10-25","o":1970,"h":1984,"l":1962,"c":1979,"m":19.5,"s":6.1,"g":13.4},
{"i":309,"d":"2023-10-26","o":1979,"h":1990,"l":1973,"c":1985,"m":21.5,"s":9.2,"g":12.3},
{"i":310,"d":"2023-10-27","o":1985,"h":2009,"l":1980,"c":2006,"m":24.5,"s":12.3,"g":12.2},
{"i":311,"d":"2023-10-30","o":2006,"h":2010,"l":1990,"c":1996,"m":25.8,"s":15.0,"g":10.8},
{"i":312,"d":"2023-10-31","o":1996,"h":2008,"l":1978,"c":1983,"m":26.3,"s":17.3,"g":9.0},
{"i":313,"d":"2023-11-01","o":1983,"h":1989,"l":1970,"c":1982,"m":26.5,"s":19.1,"g":7.4},
{"i":314,"d":"2023-11-02","o":1982,"h":1993,"l":1976,"c":1986,"m":26.8,"s":20.6,"g":6.2},
{"i":315,"d":"2023-11-03","o":1986,"h":2004,"l":1978,"c":1992,"m":27.0,"s":21.9,"g":5.1},
{"i":316,"d":"2023-11-06","o":1992,"h":1994,"l":1967,"c":1978,"m":26.0,"s":22.7,"g":3.3},
{"i":317,"d":"2023-11-07","o":1978,"h":1979,"l":1958,"c":1969,"m":24.5,"s":23.1,"g":1.4},
{"i":318,"d":"2023-11-08","o":1969,"h":1970,"l":1945,"c":1950,"m":22.0,"s":22.9,"g":-0.9},
{"i":319,"d":"2023-11-09","o":1950,"h":1965,"l":1944,"c":1958,"m":20.5,"s":22.4,"g":-1.9},
{"i":320,"d":"2023-11-10","o":1958,"h":1962,"l":1931,"c":1940,"m":17.5,"s":21.4,"g":-3.9},
{"i":321,"d":"2023-11-13","o":1940,"h":1948,"l":1932,"c":1946,"m":15.3,"s":20.2,"g":-4.9},
{"i":322,"d":"2023-11-14","o":1946,"h":1971,"l":1944,"c":1963,"m":13.6,"s":18.9,"g":-5.3},
{"i":323,"d":"2023-11-15","o":1963,"h":1971,"l":1953,"c":1959,"m":11.5,"s":17.4,"g":-5.9},
{"i":324,"d":"2023-11-16","o":1959,"h":1985,"l":1957,"c":1981,"m":11.0,"s":16.1,"g":-5.1},
{"i":325,"d":"2023-11-17","o":1981,"h":1993,"l":1975,"c":1980,"m":10.3,"s":14.9,"g":-4.6},
{"i":326,"d":"2023-11-20","o":1980,"h":1984,"l":1965,"c":1978,"m":9.5,"s":13.8,"g":-4.3},
{"i":327,"d":"2023-11-21","o":1978,"h":2007,"l":1976,"c":1998,"m":10.5,"s":13.1,"g":-2.6},
{"i":328,"d":"2023-11-22","o":1998,"h":2002,"l":1985,"c":1990,"m":10.8,"s":12.6,"g":-1.8},
{"i":329,"d":"2023-11-23","o":1990,"h":1997,"l":1986,"c":1992,"m":11.2,"s":12.3,"g":-1.1},
{"i":330,"d":"2023-11-24","o":1992,"h":2004,"l":1990,"c":2002,"m":12.2,"s":12.3,"g":-0.1},
{"i":331,"d":"2023-11-27","o":2002,"h":2017,"l":2000,"c":2014,"m":13.8,"s":12.6,"g":1.2},
{"i":332,"d":"2023-11-28","o":2014,"h":2044,"l":2012,"c":2041,"m":17.0,"s":13.5,"g":3.5},
{"i":333,"d":"2023-11-29","o":2041,"h":2052,"l":2036,"c":2044,"m":19.8,"s":14.8,"g":5.0},
{"i":334,"d":"2023-11-30","o":2044,"h":2048,"l":2031,"c":2036,"m":21.2,"s":16.1,"g":5.1},
{"i":335,"d":"2023-12-01","o":2036,"h":2075,"l":2030,"c":2071,"m":24.2,"s":17.7,"g":6.5},
{"i":336,"d":"2023-12-04","o":2071,"h":2149,"l":2016,"c":2029,"m":25.5,"s":19.3,"g":6.2},
{"i":337,"d":"2023-12-05","o":2029,"h":2032,"l":2009,"c":2019,"m":25.0,"s":20.4,"g":4.6},
{"i":338,"d":"2023-12-06","o":2019,"h":2036,"l":2017,"c":2025,"m":24.2,"s":21.2,"g":3.0},
{"i":339,"d":"2023-12-07","o":2025,"h":2034,"l":2017,"c":2028,"m":23.2,"s":21.6,"g":1.6},
{"i":340,"d":"2023-12-08","o":2028,"h":2035,"l":1994,"c":2004,"m":20.2,"s":21.3,"g":-1.1},
{"i":341,"d":"2023-12-11","o":2004,"h":2008,"l":1976,"c":1981,"m":16.0,"s":20.2,"g":-4.2},
{"i":342,"d":"2023-12-12","o":1981,"h":1988,"l":1973,"c":1980,"m":12.2,"s":18.6,"g":-6.4},
{"i":343,"d":"2023-12-13","o":1980,"h":2028,"l":1976,"c":2027,"m":12.2,"s":17.3,"g":-5.1},
{"i":344,"d":"2023-12-14","o":2027,"h":2048,"l":2024,"c":2036,"m":12.8,"s":16.4,"g":-3.6},
{"i":345,"d":"2023-12-15","o":2036,"h":2048,"l":2015,"c":2019,"m":12.0,"s":15.5,"g":-3.5},
{"i":346,"d":"2023-12-18","o":2019,"h":2030,"l":2016,"c":2027,"m":12.0,"s":14.8,"g":-2.8},
{"i":347,"d":"2023-12-19","o":2027,"h":2047,"l":2017,"c":2040,"m":12.8,"s":14.4,"g":-1.6},
{"i":348,"d":"2023-12-20","o":2040,"h":2047,"l":2030,"c":2031,"m":12.5,"s":14.0,"g":-1.5},
{"i":349,"d":"2023-12-21","o":2031,"h":2048,"l":2029,"c":2045,"m":13.4,"s":13.9,"g":-0.5},
{"i":350,"d":"2023-12-22","o":2045,"h":2071,"l":2042,"c":2053,"m":14.8,"s":14.1,"g":0.7},
{"i":351,"d":"2023-12-26","o":2053,"h":2069,"l":2047,"c":2067,"m":16.2,"s":14.5,"g":1.7},
{"i":352,"d":"2023-12-27","o":2067,"h":2084,"l":2063,"c":2077,"m":18.2,"s":15.2,"g":3.0},
{"i":353,"d":"2023-12-28","o":2077,"h":2088,"l":2062,"c":2065,"m":19.0,"s":16.0,"g":3.0},
{"i":354,"d":"2023-12-29","o":2065,"h":2074,"l":2058,"c":2063,"m":18.8,"s":16.6,"g":2.2},
{"i":355,"d":"2024-01-02","o":2063,"h":2079,"l":2055,"c":2058,"m":18.2,"s":16.9,"g":1.3},
{"i":356,"d":"2024-01-03","o":2058,"h":2061,"l":2031,"c":2042,"m":16.0,"s":16.7,"g":-0.7},
{"i":357,"d":"2024-01-04","o":2042,"h":2050,"l":2035,"c":2043,"m":14.4,"s":16.2,"g":-1.8},
{"i":358,"d":"2024-01-05","o":2043,"h":2064,"l":2024,"c":2045,"m":13.2,"s":15.6,"g":-2.4},
{"i":359,"d":"2024-01-08","o":2045,"h":2047,"l":2017,"c":2028,"m":10.8,"s":14.6,"g":-3.8},
{"i":360,"d":"2024-01-09","o":2028,"h":2041,"l":2021,"c":2029,"m":9.0,"s":13.5,"g":-4.5}
],
"boxes": [
{"x1":177.1,"x2":190.6,"y1":26.0,"y2":40.1,"cx":183.9,"cy":33.0,"label":"Crossover"},
{"x1":146.6,"x2":160.5,"y1":-11.8,"y2":-27.1,"cx":153.5,"cy":-19.5,"label":"Crossover"}
],
"tails": [
{"t":"a","ax":171.4,"top":31.9,"bot":31.9},
{"t":"a","ax":177.6,"top":36.8,"bot":27.6},
{"t":"b","ax":145.2,"top":-9.2,"bot":-9.2},
{"t":"b","ax":147.1,"top":-12.0,"bot":-17.7}
],
"segs": [
{"k":"bull","x1":127.4,"y1":-15.8,"x2":138.7,"y2":-6.4},
{"k":"bear","x1":151.5,"y1":18.2,"x2":159.8,"y2":3.5},
{"k":"arrow","x1":165.0,"y1":21.9,"x2":158.7,"y2":10.6},
{"k":"arrow","x1":158.7,"y1":10.6,"x2":160.9,"y2":10.6},
{"k":"arrow","x1":158.7,"y1":10.6,"x2":159.5,"y2":15.9},
{"k":"arrow","x1":133.5,"y1":-28.3,"x2":131.3,"y2":-16.5},
{"k":"arrow","x1":131.3,"y1":-16.5,"x2":130.9,"y2":-22.1},
{"k":"arrow","x1":131.3,"y1":-16.5,"x2":133.1,"y2":-19.2}
],
"legend": [
{"tx":-0.5,"ty":39.4,"txt":"MACD","k":"label"},
{"tx":5.4,"ty":39.4,"txt":"−2.499","k":"hist"},
{"tx":12.2,"ty":39.4,"txt":"12.967","k":"macd"},
{"tx":18.7,"ty":39.4,"txt":"15.465","k":"signal"}
]
},
"vconcat": [
{
"width": 1338,
"height": 538,
"data": {"name": "bars"},
"encoding": {
"x": {"field": "i", "type": "quantitative", "scale": {"domain": [-0.5, 360.5], "nice": false, "zero": false}, "axis": {"labels": false, "ticks": false, "domain": true, "title": null, "orient": "bottom", "domainColor": "#50535e"}}
},
"layer": [
{
"mark": {"type": "rule", "color": "#000000", "strokeWidth": 1},
"encoding": {
"y": {"field": "l", "type": "quantitative", "scale": {"domain": [1562, 2213], "nice": false, "zero": false}, "axis": {"orient": "right", "values": [1575,1600,1625,1650,1675,1700,1725,1750,1775,1800,1825,1850,1875,1900,1925,1950,1975,2000,2025,2050,2075,2100,2125,2150,2175], "format": ",.3f", "labelPadding": 8, "title": "USD", "titleAngle": 0, "titleAlign": "left", "titleBaseline": "middle", "titleX": 10, "titleY": 9, "titleFontSize": 7, "titleFontWeight": "normal", "titleColor": "#50535e"}},
"y2": {"field": "h"}
}
},
{
"mark": {"type": "bar", "size": 2.4, "stroke": "#000000", "strokeWidth": 0.8},
"encoding": {
"y": {"field": "o", "type": "quantitative", "scale": {"domain": [1562, 2213], "nice": false, "zero": false}, "axis": {"orient": "right", "values": [1575,1600,1625,1650,1675,1700,1725,1750,1775,1800,1825,1850,1875,1900,1925,1950,1975,2000,2025,2050,2075,2100,2125,2150,2175], "format": ",.3f", "labelPadding": 8, "title": "USD", "titleAngle": 0, "titleAlign": "left", "titleBaseline": "middle", "titleX": 10, "titleY": 9, "titleFontSize": 7, "titleFontWeight": "normal", "titleColor": "#50535e"}},
"y2": {"field": "c"},
"fill": {"condition": {"test": "datum.c >= datum.o", "value": "#ffffff"}, "value": "#000000"}
}
}
]
},
{
"width": 1338,
"height": 112,
"layer": [
{
"data": {"name": "bars"},
"transform": [{"window": [{"op": "lag", "field": "g", "as": "pg"}], "sort": [{"field": "i", "order": "ascending"}]}],
"mark": {"type": "bar", "size": 2.8},
"encoding": {
"x": {"field": "i", "type": "quantitative", "scale": {"domain": [-0.5, 360.5], "nice": false, "zero": false}, "axis": {"orient": "bottom", "title": null, "ticks": false, "labelPadding": 5, "domainColor": "#c8cad0", "labelOverlap": false, "labelFlush": false, "values": [10,32,53,75,96,118,138,161,181,204,226,247,270,291,313,335,355], "labelExpr": "['Sep','Oct','Nov','Dec','2023','Feb','Mar','Apr','May','Jun','Jul','Aug','Sep','Oct','Nov','Dec','2024'][indexof([10,32,53,75,96,118,138,161,181,204,226,247,270,291,313,335,355], datum.value)]"}},
"y": {"field": "g", "type": "quantitative", "scale": {"domain": [-33.3, 46], "nice": false, "zero": false}, "axis": {"orient": "right", "title": null, "values": [-20, 0, 20, 40], "format": ",.3f", "labelPadding": 8}},
"y2": {"datum": 0},
"fill": {"condition": [
{"test": "datum.g >= 0 && (datum.pg == null || datum.g >= datum.pg)", "value": "#26A69A"},
{"test": "datum.g >= 0", "value": "#B2DFDB"},
{"test": "datum.g < datum.pg", "value": "#FF5252"}
], "value": "#FFCDD2"}
}
},
{
"data": {"name": "bars"},
"mark": {"type": "line", "color": "#2962FF", "strokeWidth": 1},
"encoding": {
"x": {"field": "i", "type": "quantitative", "scale": {"domain": [-0.5, 360.5], "nice": false, "zero": false}, "axis": {"orient": "bottom", "title": null, "ticks": false, "labelPadding": 5, "domainColor": "#c8cad0", "labelOverlap": false, "labelFlush": false, "values": [10,32,53,75,96,118,138,161,181,204,226,247,270,291,313,335,355], "labelExpr": "['Sep','Oct','Nov','Dec','2023','Feb','Mar','Apr','May','Jun','Jul','Aug','Sep','Oct','Nov','Dec','2024'][indexof([10,32,53,75,96,118,138,161,181,204,226,247,270,291,313,335,355], datum.value)]"}},
"y": {"field": "m", "type": "quantitative", "scale": {"domain": [-33.3, 46], "nice": false, "zero": false}, "axis": {"orient": "right", "title": null, "values": [-20, 0, 20, 40], "format": ",.3f", "labelPadding": 8}}
}
},
{
"data": {"name": "bars"},
"mark": {"type": "line", "color": "#FF6D00", "strokeWidth": 1},
"encoding": {
"x": {"field": "i", "type": "quantitative", "scale": {"domain": [-0.5, 360.5], "nice": false, "zero": false}, "axis": {"orient": "bottom", "title": null, "ticks": false, "labelPadding": 5, "domainColor": "#c8cad0", "labelOverlap": false, "labelFlush": false, "values": [10,32,53,75,96,118,138,161,181,204,226,247,270,291,313,335,355], "labelExpr": "['Sep','Oct','Nov','Dec','2023','Feb','Mar','Apr','May','Jun','Jul','Aug','Sep','Oct','Nov','Dec','2024'][indexof([10,32,53,75,96,118,138,161,181,204,226,247,270,291,313,335,355], datum.value)]"}},
"y": {"field": "s", "type": "quantitative", "scale": {"domain": [-33.3, 46], "nice": false, "zero": false}, "axis": {"orient": "right", "title": null, "values": [-20, 0, 20, 40], "format": ",.3f", "labelPadding": 8}}
}
},
{
"data": {"name": "segs"},
"transform": [{"filter": "datum.k != 'arrow'"}],
"mark": {"type": "rule", "strokeWidth": 2.4, "strokeCap": "round"},
"encoding": {
"x": {"field": "x1", "type": "quantitative", "scale": {"domain": [-0.5, 360.5], "nice": false, "zero": false}, "axis": {"orient": "bottom", "title": null, "ticks": false, "labelPadding": 5, "domainColor": "#c8cad0", "labelOverlap": false, "labelFlush": false, "values": [10,32,53,75,96,118,138,161,181,204,226,247,270,291,313,335,355], "labelExpr": "['Sep','Oct','Nov','Dec','2023','Feb','Mar','Apr','May','Jun','Jul','Aug','Sep','Oct','Nov','Dec','2024'][indexof([10,32,53,75,96,118,138,161,181,204,226,247,270,291,313,335,355], datum.value)]"}},
"x2": {"field": "x2"},
"y": {"field": "y1", "type": "quantitative", "scale": {"domain": [-33.3, 46], "nice": false, "zero": false}, "axis": {"orient": "right", "title": null, "values": [-20, 0, 20, 40], "format": ",.3f", "labelPadding": 8}},
"y2": {"field": "y2"},
"stroke": {"field": "k", "type": "nominal", "scale": {"domain": ["bull", "bear", "arrow"], "range": ["#2962FF", "#F23645", "#131722"]}, "legend": null}
}
},
{
"data": {"name": "segs"},
"transform": [{"filter": "datum.k == 'arrow'"}],
"mark": {"type": "rule", "strokeWidth": 1.3, "strokeCap": "round"},
"encoding": {
"x": {"field": "x1", "type": "quantitative", "scale": {"domain": [-0.5, 360.5], "nice": false, "zero": false}, "axis": {"orient": "bottom", "title": null, "ticks": false, "labelPadding": 5, "domainColor": "#c8cad0", "labelOverlap": false, "labelFlush": false, "values": [10,32,53,75,96,118,138,161,181,204,226,247,270,291,313,335,355], "labelExpr": "['Sep','Oct','Nov','Dec','2023','Feb','Mar','Apr','May','Jun','Jul','Aug','Sep','Oct','Nov','Dec','2024'][indexof([10,32,53,75,96,118,138,161,181,204,226,247,270,291,313,335,355], datum.value)]"}},
"x2": {"field": "x2"},
"y": {"field": "y1", "type": "quantitative", "scale": {"domain": [-33.3, 46], "nice": false, "zero": false}, "axis": {"orient": "right", "title": null, "values": [-20, 0, 20, 40], "format": ",.3f", "labelPadding": 8}},
"y2": {"field": "y2"},
"stroke": {"field": "k", "type": "nominal", "scale": {"domain": ["bull", "bear", "arrow"], "range": ["#2962FF", "#F23645", "#131722"]}, "legend": null}
}
},
{
"data": {"name": "tails"},
"mark": {"type": "area", "color": "#5AAFEF"},
"encoding": {
"x": {"field": "ax", "type": "quantitative", "scale": {"domain": [-0.5, 360.5], "nice": false, "zero": false}, "axis": {"orient": "bottom", "title": null, "ticks": false, "labelPadding": 5, "domainColor": "#c8cad0", "labelOverlap": false, "labelFlush": false, "values": [10,32,53,75,96,118,138,161,181,204,226,247,270,291,313,335,355], "labelExpr": "['Sep','Oct','Nov','Dec','2023','Feb','Mar','Apr','May','Jun','Jul','Aug','Sep','Oct','Nov','Dec','2024'][indexof([10,32,53,75,96,118,138,161,181,204,226,247,270,291,313,335,355], datum.value)]"}},
"y": {"field": "top", "type": "quantitative", "scale": {"domain": [-33.3, 46], "nice": false, "zero": false}, "axis": {"orient": "right", "title": null, "values": [-20, 0, 20, 40], "format": ",.3f", "labelPadding": 8}},
"y2": {"field": "bot"},
"detail": {"field": "t", "type": "nominal"}
}
},
{
"data": {"name": "boxes"},
"mark": {"type": "rect", "color": "#5AAFEF", "cornerRadius": 3},
"encoding": {
"x": {"field": "x1", "type": "quantitative", "scale": {"domain": [-0.5, 360.5], "nice": false, "zero": false}, "axis": {"orient": "bottom", "title": null, "ticks": false, "labelPadding": 5, "domainColor": "#c8cad0", "labelOverlap": false, "labelFlush": false, "values": [10,32,53,75,96,118,138,161,181,204,226,247,270,291,313,335,355], "labelExpr": "['Sep','Oct','Nov','Dec','2023','Feb','Mar','Apr','May','Jun','Jul','Aug','Sep','Oct','Nov','Dec','2024'][indexof([10,32,53,75,96,118,138,161,181,204,226,247,270,291,313,335,355], datum.value)]"}},
"x2": {"field": "x2"},
"y": {"field": "y1", "type": "quantitative", "scale": {"domain": [-33.3, 46], "nice": false, "zero": false}, "axis": {"orient": "right", "title": null, "values": [-20, 0, 20, 40], "format": ",.3f", "labelPadding": 8}},
"y2": {"field": "y2"}
}
},
{
"data": {"name": "boxes"},
"mark": {"type": "text", "color": "#ffffff", "fontSize": 8.5, "align": "center", "baseline": "middle"},
"encoding": {
"x": {"field": "cx", "type": "quantitative", "scale": {"domain": [-0.5, 360.5], "nice": false, "zero": false}, "axis": {"orient": "bottom", "title": null, "ticks": false, "labelPadding": 5, "domainColor": "#c8cad0", "labelOverlap": false, "labelFlush": false, "values": [10,32,53,75,96,118,138,161,181,204,226,247,270,291,313,335,355], "labelExpr": "['Sep','Oct','Nov','Dec','2023','Feb','Mar','Apr','May','Jun','Jul','Aug','Sep','Oct','Nov','Dec','2024'][indexof([10,32,53,75,96,118,138,161,181,204,226,247,270,291,313,335,355], datum.value)]"}},
"y": {"field": "cy", "type": "quantitative", "scale": {"domain": [-33.3, 46], "nice": false, "zero": false}, "axis": {"orient": "right", "title": null, "values": [-20, 0, 20, 40], "format": ",.3f", "labelPadding": 8}},
"text": {"field": "label"}
}
},
{
"data": {"name": "legend"},
"mark": {"type": "text", "align": "left", "baseline": "middle", "fontSize": 7},
"encoding": {
"x": {"field": "tx", "type": "quantitative", "scale": {"domain": [-0.5, 360.5], "nice": false, "zero": false}, "axis": {"orient": "bottom", "title": null, "ticks": false, "labelPadding": 5, "domainColor": "#c8cad0", "labelOverlap": false, "labelFlush": false, "values": [10,32,53,75,96,118,138,161,181,204,226,247,270,291,313,335,355], "labelExpr": "['Sep','Oct','Nov','Dec','2023','Feb','Mar','Apr','May','Jun','Jul','Aug','Sep','Oct','Nov','Dec','2024'][indexof([10,32,53,75,96,118,138,161,181,204,226,247,270,291,313,335,355], datum.value)]"}},
"y": {"field": "ty", "type": "quantitative", "scale": {"domain": [-33.3, 46], "nice": false, "zero": false}, "axis": {"orient": "right", "title": null, "values": [-20, 0, 20, 40], "format": ",.3f", "labelPadding": 8}},
"text": {"field": "txt"},
"fill": {"field": "k", "type": "nominal", "scale": {"domain": ["label", "hist", "macd", "signal"], "range": ["#131722", "#F7A7AC", "#2962FF", "#FF6D00"]}, "legend": null}
}
}
]
}
]
}
